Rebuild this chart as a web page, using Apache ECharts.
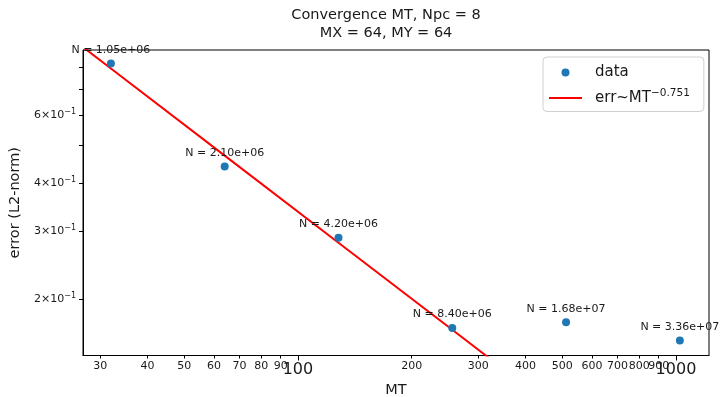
<!DOCTYPE html>
<html>
<head>
<meta charset="utf-8">
<script src="https://cdn.jsdelivr.net/npm/echarts@6/dist/echarts.min.js"></script>
<style>html,body{margin:0;padding:0;background:#fff}#c{width:720px;height:397px}</style>
</head>
<body>
<div id="c"></div>
<script>
// ---- data ----
const mtValues = [32, 64, 128, 256, 512, 1024];
const errValues = [0.817, 0.441, 0.288, 0.168, 0.174, 0.156];
const nLabels = ['N = 1.05e+06', 'N = 2.10e+06', 'N = 4.20e+06', 'N = 8.40e+06', 'N = 1.68e+07', 'N = 3.36e+07'];
const fitCoef = 10.7;
const fitExponent = -0.751;
const fitMT = [26, 32, 64, 128, 256, 512, 1024];
const xMinorTicks = [30, 40, 50, 60, 70, 80, 90, 200, 300, 400, 500, 600, 700, 800, 900];
const xMinorLabelsA = [30, 40, 50, 60, 70, 80, 90, 200, 300, 400, 500, 600, 700, 900];
const xMinorLabelsB = [800];
const xMajorTicks = [100, 1000];
const yLabelTicks = [0.2, 0.3, 0.4, 0.6];
const yAllTicks = [0.2, 0.3, 0.4, 0.5, 0.6, 0.7, 0.8];

const FONT = 'DejaVu Sans';
const TXT = '#1a1a1a';

const scatterData = mtValues.map((m, i) => ({ value: [m, errValues[i]], label: { formatter: nLabels[i] } }));
const fitData = fitMT.map(m => [m, fitCoef * Math.pow(m, fitExponent)]);

function minorAxis(labels, ticks, withLine, withName) {
  return {
    type: 'log', min: 27, max: 1223, position: 'bottom',
    name: withName ? 'MT' : '', nameLocation: 'middle', nameGap: 27,
    nameTextStyle: { fontFamily: FONT, fontSize: 14.5, color: TXT },
    axisLine: { show: withLine, lineStyle: { color: '#000', width: 1 } },
    axisTick: { show: ticks.length > 0, length: 3, customValues: ticks.length ? ticks : [100], lineStyle: { color: '#000' } },
    axisLabel: { show: true, customValues: labels, margin: 5, hideOverlap: false, showMinLabel: true, showMaxLabel: true, fontFamily: FONT, fontSize: 11, color: TXT, formatter: v => String(Math.round(v)) },
    splitLine: { show: false }, minorTick: { show: false }
  };
}

const chart = echarts.init(document.getElementById('c'), null, { renderer: 'canvas' });
chart.setOption({
  animation: false,
  backgroundColor: '#fff',
  textStyle: { fontFamily: FONT, color: TXT },
  title: {
    text: 'Convergence MT, Npc = 8\nMX = 64, MY = 64',
    left: 386, top: 6, textAlign: 'center', padding: 0,
    textStyle: { fontFamily: FONT, fontSize: 14.5, fontWeight: 'normal', color: TXT, lineHeight: 18 }
  },
  grid: { left: 83, right: 11, top: 50, bottom: 41.5, outerBoundsMode: 'none', containLabel: false, show: true, borderColor: '#000', borderWidth: 1, backgroundColor: 'transparent' },
  legend: {
    orient: 'vertical', left: 543, top: 57, width: 159,
    padding: [8, 14, 6, 6], itemGap: 8,
    backgroundColor: 'rgba(255,255,255,0.8)', borderColor: '#d0d0d0', borderWidth: 1, borderRadius: 4,
    itemWidth: 33, itemHeight: 8,
    data: [
      { name: 'data', icon: 'circle' },
      { name: 'fit', icon: 'path://M0,0 L33,0 L33,2 L0,2 Z', itemStyle: { color: '#ff0000' } }
    ],
    formatter: function (name) {
      return name === 'data' ? '{d|data}' : '{d|err~MT}{s|−0.751}';
    },
    textStyle: {
      fontFamily: FONT, color: TXT, fontSize: 15,
      rich: {
        d: { fontFamily: FONT, fontSize: 15, color: TXT, padding: [0, 0, 0, 8] },
        s: { fontFamily: FONT, fontSize: 10.5, color: TXT, padding: [0, 0, 9, 0] }
      }
    }
  },
  xAxis: [
    minorAxis(xMinorLabelsA, xMinorTicks, true, true),
    {
      type: 'log', min: 27, max: 1223, position: 'bottom',
      axisLine: { show: false },
      axisTick: { show: true, length: 5, customValues: xMajorTicks, lineStyle: { color: '#000' } },
      axisLabel: { show: true, customValues: xMajorTicks, margin: 6, hideOverlap: false, showMinLabel: true, showMaxLabel: true, fontFamily: FONT, fontSize: 16, color: TXT, formatter: v => String(Math.round(v)) },
      splitLine: { show: false }
    },
    {
      type: 'log', min: 27, max: 1223, position: 'bottom',
      axisLine: { show: false },
      axisTick: { show: false },
      axisLabel: { show: true, customValues: xMinorLabelsB, margin: 5, hideOverlap: false, showMinLabel: true, showMaxLabel: true, fontFamily: FONT, fontSize: 11, color: TXT, formatter: v => String(Math.round(v)) },
      splitLine: { show: false }
    }
  ],
  yAxis: {
    type: 'log', min: 0.1426, max: 0.885,
    name: 'error (L2-norm)', nameLocation: 'middle', nameGap: 60,
    nameTextStyle: { fontFamily: FONT, fontSize: 14.5, color: TXT },
    axisLine: { show: true, lineStyle: { color: '#000', width: 1 } },
    axisTick: { show: true, length: 4, customValues: yAllTicks, lineStyle: { color: '#000' } },
    axisLabel: {
      show: true, customValues: yLabelTicks, margin: 7, showMinLabel: true, showMaxLabel: true,
      formatter: function (v) { return '{m|' + Math.round(v * 10) + '\u00d710}{s|\u22121}'; },
      rich: {
        m: { fontFamily: FONT, fontSize: 11, color: TXT },
        s: { fontFamily: FONT, fontSize: 8, color: TXT, padding: [0, 0, 6, 0] }
      }
    },
    splitLine: { show: false }
  },
  series: [
    {
      name: 'data', type: 'scatter', xAxisIndex: 0, symbol: 'circle', symbolSize: 8,
      itemStyle: { color: '#1f77b4', opacity: 1 },
      data: scatterData,
      label: { show: true, position: 'top', distance: 4, fontFamily: FONT, fontSize: 11, color: TXT },
      z: 3
    },
    {
      name: 'fit', type: 'line', xAxisIndex: 0, symbol: 'none', clip: true,
      lineStyle: { color: '#ff0000', width: 2 }, itemStyle: { color: '#ff0000' },
      data: fitData, z: 2
    }
  ]
});
</script>
</body>
</html>
